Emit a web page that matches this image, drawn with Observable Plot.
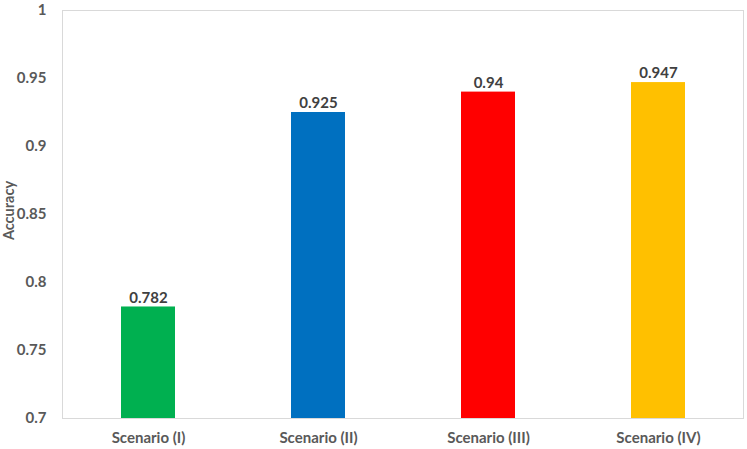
<!DOCTYPE html>
<html>
<head>
<meta charset="utf-8">
<script src="https://cdn.jsdelivr.net/npm/d3@7"></script>
<script src="https://cdn.jsdelivr.net/npm/@observablehq/plot@0.6"></script>
<style>
  html, body { margin: 0; padding: 0; background: #fff; }
  #chart svg { display: block; }
</style>
</head>
<body>
<div id="chart"></div>
<script>
const categories = ["Scenario (I)", "Scenario (II)", "Scenario (III)", "Scenario (IV)"];
const accuracy = [0.782, 0.925, 0.94, 0.947];
const colors = ["#00B050", "#0070C0", "#FF0000", "#FFC000"];
const yTicks = [0.7, 0.75, 0.8, 0.85, 0.9, 0.95, 1];
const yDomain = [0.7, 1];

const data = categories.map((c, i) => ({ name: c, value: accuracy[i], color: colors[i] }));

const fontFamily = "Lato, 'Open Sans', sans-serif";

const chart = Plot.plot({
  width: 747,
  height: 449,
  marginLeft: 62,
  marginRight: 4,
  marginTop: 10,
  marginBottom: 31,
  style: { fontFamily, fontSize: "15px", fontWeight: "bold", color: "#595959", background: "#fff", overflow: "visible" },
  x: { domain: categories, paddingInner: 0.683, paddingOuter: 0.3415, label: null },
  y: { domain: yDomain, ticks: yTicks, label: null },
  marks: [
    Plot.frame({ stroke: "#d9d9d9" }),
    Plot.barY(data, { x: "name", y1: () => yDomain[0], y2: "value", fill: "color" }),
    Plot.text(data, { x: "name", y: "value", text: d => String(d.value), dy: -9, fill: "#404040", fontWeight: "bold", fontSize: 15 }),
    Plot.axisX({ tickSize: 0, tickPadding: 14, fontSize: 15, fontWeight: "bold", fill: "#595959" }),
    Plot.axisY({ ticks: yTicks, tickSize: 0, tickPadding: 16, tickFormat: d => String(+d.toFixed(2)), fontSize: 15, fill: "#595959" }),
    Plot.text(["Accuracy"], { frameAnchor: "left", textAnchor: "middle", dx: -53, dy: -4, rotate: -90, fontSize: 14.5, fontWeight: "bold", fill: "#595959" })
  ]
});

document.getElementById("chart").appendChild(chart);
</script>
</body>
</html>
